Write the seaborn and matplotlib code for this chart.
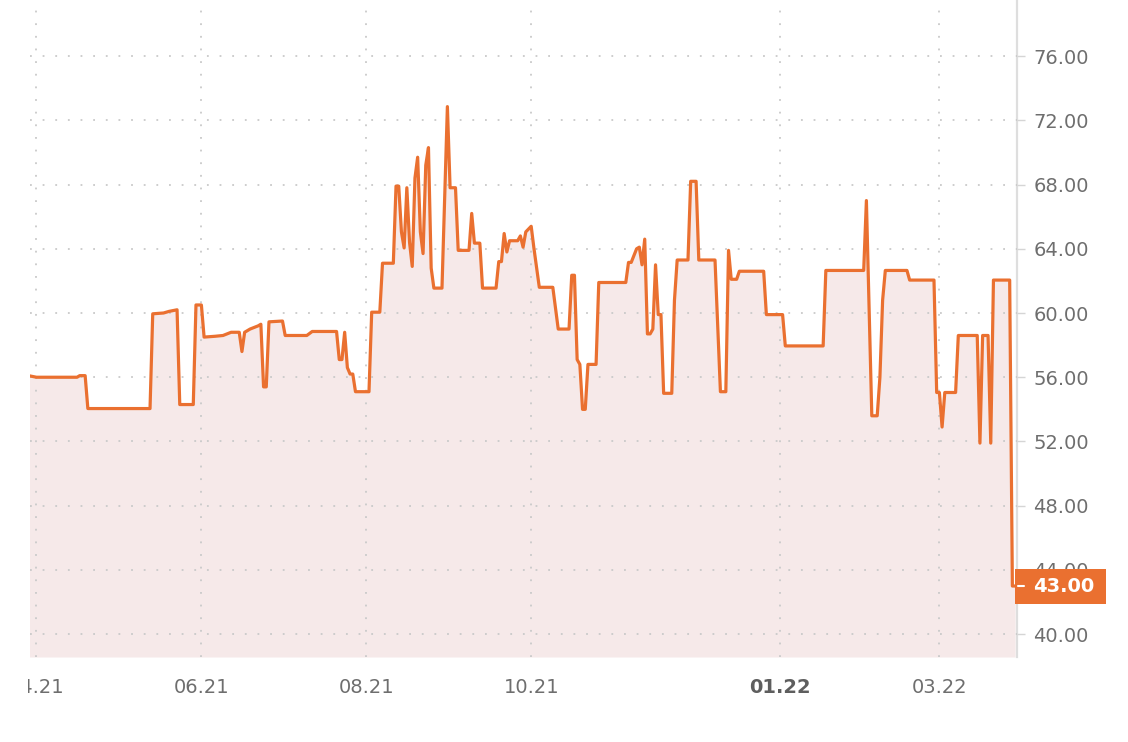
import numpy as np
import pandas as pd
import matplotlib
matplotlib.use("Agg")
import matplotlib.pyplot as plt
import matplotlib.dates as mdates
import matplotlib.transforms as mtransforms
from matplotlib.patches import Rectangle
import seaborn as sns

# data (days counted from 2021-04-01)
start_date = "2021-04-01"
day_offsets = [
    -3, 0, 15, 16, 18, 19, 42, 43, 47, 49,
    52, 53, 58, 59, 61, 62, 66, 69, 72, 75,
    76, 77, 79, 82, 83, 84, 85, 86, 91, 92,
    100, 102, 111, 112, 113, 114, 115, 116, 117, 118,
    123, 124, 127, 128, 132, 133, 134, 135, 136, 137,
    138, 139, 140, 141, 142, 143, 144, 145, 146, 147,
    150, 152, 153, 155, 156, 160, 161, 162, 164, 165,
    170, 171, 172, 173, 174, 175, 178, 179, 180, 181,
    183, 184, 186, 191, 193, 197, 198, 199, 200, 201,
    202, 203, 204, 207, 208, 218, 219, 220, 222, 223,
    224, 225, 226, 227, 228, 229, 230, 231, 232, 235,
    236, 237, 241, 242, 244, 245, 251, 253, 255, 256,
    257, 259, 260, 269, 270, 276, 277, 291, 292, 306,
    307, 309, 311, 312, 313, 314, 322, 323, 332, 333,
    334, 335, 336, 340, 341, 348, 349, 350, 352, 353,
    354, 360, 361, 362,
]
prices = [
    56.1, 56.0, 56.0, 56.1, 56.1, 54.05, 54.05, 59.95, 60.0, 60.1,
    60.2, 54.3, 54.3, 60.5, 60.5, 58.5, 58.55, 58.6, 58.8, 58.8,
    57.6, 58.8, 59.0, 59.2, 59.3, 55.4, 55.4, 59.45, 59.5, 58.6,
    58.6, 58.85, 58.85, 57.1, 57.1, 58.8, 56.6, 56.2, 56.2, 55.1,
    55.1, 60.05, 60.05, 63.1, 63.1, 67.9, 67.9, 65.05, 64.05, 67.8,
    64.4, 62.9, 68.4, 69.7, 65.05, 63.7, 69.2, 70.3, 62.8, 61.55,
    61.55, 72.85, 67.8, 67.8, 63.9, 63.9, 66.2, 64.35, 64.35, 61.55,
    61.55, 63.2, 63.2, 64.95, 63.8, 64.5, 64.5, 64.8, 64.1, 65.05,
    65.4, 64.05, 61.6, 61.6, 59.0, 59.0, 62.35, 62.35, 57.1, 56.8,
    54.0, 54.0, 56.8, 56.8, 61.9, 61.9, 63.15, 63.15, 64.0, 64.1,
    63.0, 64.6, 58.7, 58.7, 59.0, 63.0, 59.9, 59.9, 55.0, 55.0,
    60.8, 63.3, 63.3, 68.2, 68.2, 63.3, 63.3, 55.1, 55.1, 63.9,
    62.1, 62.1, 62.6, 62.6, 59.9, 59.9, 57.95, 57.95, 62.65, 62.65,
    67.0, 53.6, 53.6, 56.0, 60.8, 62.65, 62.65, 62.05, 62.05, 55.05,
    55.05, 52.9, 55.05, 55.05, 58.6, 58.6, 51.9, 58.6, 58.6, 51.9,
    62.05, 62.05, 43.0, 43.0,
]
last_price = 43.00

month_ticks = ["2021-04-01", "2021-06-01", "2021-08-01", "2021-10-01", "2022-01-01", "2022-03-01"]
month_labels = ["04.21", "06.21", "08.21", "10.21", "01.22", "03.22"]
price_ticks = [40, 44, 48, 52, 56, 60, 64, 68, 72, 76]

LINE = "#ea7030"
FILL = "#f6e9e9"
TXT = "#6e6e6e"
GRID = "#c9c9c9"

base = pd.Timestamp(start_date)
df = pd.DataFrame({
    "date": base + pd.to_timedelta(day_offsets, unit="D"),
    "price": prices,
})

sns.set_style("white")
plt.rcParams["font.family"] = ["DejaVu Sans"]

W, H = 1128, 742
fig = plt.figure(figsize=(W / 100, H / 100), dpi=100)
ax_left, ax_right, ax_bottom = 30, 1016.7, 657
ax = fig.add_axes([ax_left / W, 1 - ax_bottom / H, (ax_right - ax_left) / W, ax_bottom / H])

ymin, ymax = 38.58, 79.49
ax.fill_between(df["date"], df["price"], ymin, color=FILL, lw=0, zorder=1)
sns.lineplot(data=df, x="date", y="price", color=LINE, lw=2.3, ax=ax, zorder=3)

ax.set_xlim(base - pd.Timedelta(days=2.4), base + pd.Timedelta(days=362.6))
ax.set_ylim(ymin, ymax)

ax.set_axisbelow(False)
ax.grid(True, color=GRID, lw=1.3, linestyle=(0, (1, 6)))
for ln in ax.get_xgridlines() + ax.get_ygridlines():
    ln.set_zorder(2)

for s in ["top", "left", "bottom"]:
    ax.spines[s].set_visible(False)
ax.spines["right"].set_color("#dedede")
ax.spines["right"].set_linewidth(1.6)

ax.yaxis.tick_right()
ax.set_yticks(price_ticks)
ax.set_yticklabels([f"{v:.2f}" for v in price_ticks])
ax.tick_params(axis="y", length=6, width=1, color="#d5d5d5", pad=6,
               labelsize=14, labelcolor=TXT)

ax.set_xticks(mdates.date2num(pd.to_datetime(month_ticks)))
ax.set_xticklabels(month_labels)
ax.tick_params(axis="x", length=0, pad=15, labelsize=14, labelcolor=TXT)
clip = mtransforms.TransformedBbox(
    mtransforms.Bbox([[28 / W, 0], [1, 1]]), fig.transFigure)
for lbl in ax.get_xticklabels():
    if lbl.get_text() == "01.22":
        lbl.set_fontweight("bold")
        lbl.set_color("#5e5e5e")
    lbl.set_clip_box(clip)
    lbl.set_clip_on(True)

ax.set_xlabel("")
ax.set_ylabel("")

# partly visible label above the top
blend = mtransforms.blended_transform_factory(ax.transAxes, ax.transData)
ax.text(1.0165, 80, "80.00", transform=blend, ha="left", va="center",
        fontsize=14, color=TXT, clip_on=False)

# last price marker
box_h = 35 / 16.06
ax.add_patch(Rectangle((1.0 - 1.5 / (ax_right - ax_left), last_price - box_h / 2),
                       91 / (ax_right - ax_left), box_h, transform=blend,
                       facecolor=LINE, edgecolor="none", clip_on=False, zorder=5))
ax.plot([1.001, 1.0075], [last_price, last_price], transform=blend,
        color="white", lw=1.5, clip_on=False, zorder=6)
ax.text(1.0165, last_price, f"{last_price:.2f}", transform=blend, ha="left",
        va="center", fontsize=14, color="white", fontweight="bold",
        clip_on=False, zorder=7)

fig.savefig("out.png", dpi=100)
